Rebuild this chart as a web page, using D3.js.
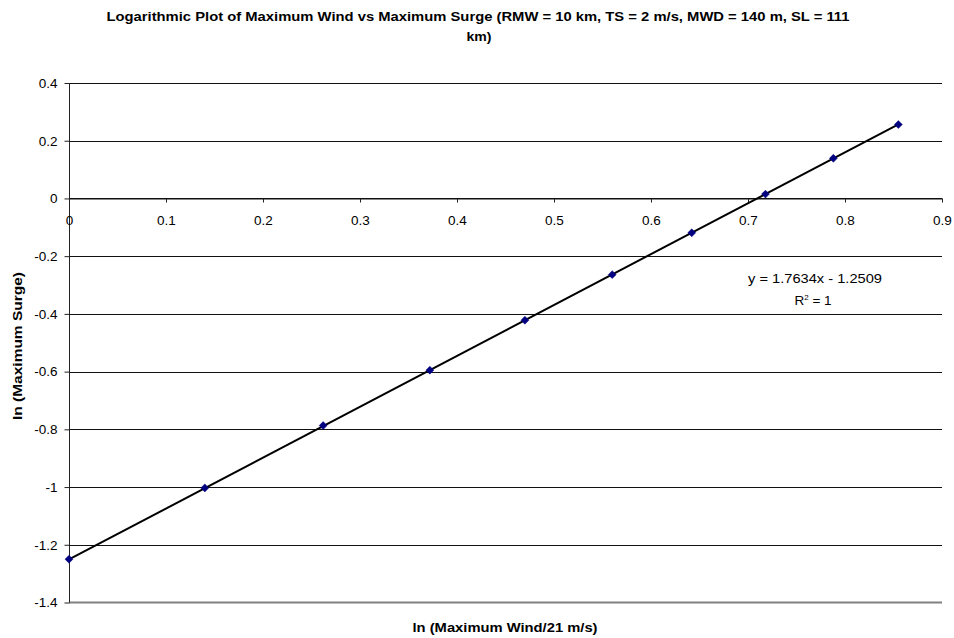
<!DOCTYPE html>
<html>
<head>
<meta charset="utf-8">
<script src="https://cdn.jsdelivr.net/npm/d3@7"></script>
<style>
  body { margin: 0; background: #fff; }
  svg { display: block; font-family: "Liberation Sans", Arial, sans-serif; }
</style>
</head>
<body>
<svg id="vis" width="954" height="638"></svg>
<script>
// data
const lnWind  = [0, 0.140, 0.262, 0.372, 0.470, 0.560, 0.642, 0.718, 0.788, 0.855];
const lnSurge = [-1.250, -1.003, -0.787, -0.595, -0.422, -0.264, -0.119, 0.015, 0.139, 0.256];
const xTicks = [0, 0.1, 0.2, 0.3, 0.4, 0.5, 0.6, 0.7, 0.8, 0.9];
const yTicks = [0.4, 0.2, 0, -0.2, -0.4, -0.6, -0.8, -1, -1.2, -1.4];
const slope = 1.7634, intercept = -1.2509;

const svg = d3.select("#vis");

// SCALES
const x = d3.scaleLinear().domain([0, 0.9]).range([69, 942]);
const y = d3.scaleLinear().domain([-1.4, 0.4]).range([602.5, 83]);

// title
svg.append("text")
  .attr("x", 478).attr("y", 21)
  .attr("text-anchor", "middle")
  .attr("textLength", 743).attr("lengthAdjust", "spacingAndGlyphs")
  .style("font-weight", "bold").style("font-size", "13px")
  .text("Logarithmic Plot of Maximum Wind vs Maximum Surge (RMW = 10 km, TS = 2 m/s, MWD = 140 m, SL = 111");
svg.append("text")
  .attr("x", 479).attr("y", 41)
  .attr("text-anchor", "middle")
  .attr("textLength", 25).attr("lengthAdjust", "spacingAndGlyphs")
  .style("font-weight", "bold").style("font-size", "13px")
  .text("km)");

// gridlines
svg.append("g")
  .selectAll("line")
  .data(yTicks.filter(d => d !== -1.4))
  .join("line")
  .attr("x1", x(0)).attr("x2", x(0.9))
  .attr("y1", d => Math.round(y(d)) + 0.5)
  .attr("y2", d => Math.round(y(d)) + 0.5)
  .attr("stroke", "#111").attr("stroke-width", 1);

// bottom border
svg.append("line")
  .attr("x1", x(0)).attr("x2", x(0.9))
  .attr("y1", y(-1.4)).attr("y2", y(-1.4))
  .attr("stroke", "#808080").attr("stroke-width", 2);

// y axis
const yAxis = d3.axisLeft(y)
  .tickValues(yTicks)
  .tickFormat(d => String(+d.toFixed(1)))
  .tickSize(5)
  .tickPadding(7);

const gy = svg.append("g")
  .attr("transform", `translate(${Math.round(x(0)) + 0.5},0)`)
  .call(yAxis);
gy.select(".domain").attr("stroke", "#222").attr("d", `M0,${y(0.4)}V${y(-1.4)}`);
gy.selectAll(".tick line").attr("stroke", "#222");
gy.selectAll(".tick text")
  .style("font-size", "13.5px").style("font-family", "Liberation Sans, Arial, sans-serif")
  .attr("fill", "#000");

// x axis at y = 0
const xAxis = d3.axisBottom(x)
  .tickValues(xTicks)
  .tickFormat(d => String(+d.toFixed(1)))
  .tickSize(4)
  .tickSizeOuter(0)
  .tickPadding(13);

const gx = svg.append("g")
  .attr("transform", `translate(0,${Math.round(y(0)) + 0.5})`)
  .call(xAxis);
gx.select(".domain").attr("stroke", "#111");
gx.selectAll(".tick line").attr("stroke", "#222");
gx.selectAll(".tick text")
  .style("font-size", "13.5px").style("font-family", "Liberation Sans, Arial, sans-serif")
  .attr("fill", "#000");

// trend line
const xMax = d3.max(lnWind);
svg.append("line")
  .attr("x1", x(0)).attr("y1", y(intercept))
  .attr("x2", x(xMax)).attr("y2", y(slope * xMax + intercept))
  .attr("stroke", "#000").attr("stroke-width", 2);

// points
const pts = lnWind.map((d, i) => ({ x: d, y: lnSurge[i] }));
svg.append("g")
  .selectAll("path")
  .data(pts)
  .join("path")
  .attr("d", d3.symbol(d3.symbolDiamond2, 40))
  .attr("transform", d => `translate(${x(d.x)},${y(d.y)})`)
  .attr("fill", "#000080")
  .attr("stroke", "#000080").attr("stroke-width", 0.5);

// equation label
svg.append("text")
  .attr("x", 815).attr("y", 283)
  .attr("text-anchor", "middle")
  .attr("textLength", 134).attr("lengthAdjust", "spacingAndGlyphs")
  .style("font-size", "13.5px")
  .text("y = 1.7634x - 1.2509");
const r2 = svg.append("text")
  .attr("x", 813).attr("y", 305)
  .attr("text-anchor", "middle")
  .style("font-size", "13.5px");
r2.append("tspan").text("R");
r2.append("tspan").attr("dy", -5).style("font-size", "8px").text("2");
r2.append("tspan").attr("dy", 5).text(" = 1");

// axis titles
svg.append("text")
  .attr("x", 505).attr("y", 632)
  .attr("text-anchor", "middle")
  .attr("textLength", 185).attr("lengthAdjust", "spacingAndGlyphs")
  .style("font-weight", "bold").style("font-size", "13px")
  .text("ln (Maximum Wind/21 m/s)");

svg.append("text")
  .attr("transform", `translate(22,346) rotate(-90)`)
  .attr("text-anchor", "middle")
  .attr("textLength", 148).attr("lengthAdjust", "spacingAndGlyphs")
  .style("font-weight", "bold").style("font-size", "13px")
  .text("ln (Maximum Surge)");
</script>
</body>
</html>
